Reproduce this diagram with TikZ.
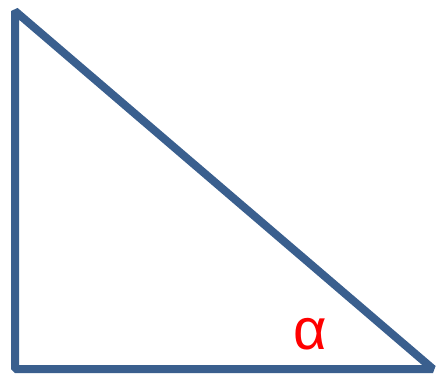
\documentclass[tikz,border=0pt]{standalone}
\usepackage{fontspec}
\usepackage{tikz}
\usetikzlibrary{positioning,calc}
\newfontfamily\anglefont{Liberation Sans}
\definecolor{edgeblue}{HTML}{3A5F8E}
\definecolor{anglered}{HTML}{FF0000}
\tikzset{
  sideline/.style={line width=8pt, draw=edgeblue, line join=bevel},
  anglelabel/.style={font=\anglefont\fontsize{58}{60}\selectfont, text=anglered, inner sep=0pt}
}
\begin{document}
\begin{tikzpicture}[x=1pt,y=1pt]
  \useasboundingbox (0,0) rectangle (438,373);
  \coordinate (top) at (15,362);
  \coordinate (corner) at (15,4);
  \coordinate (tip) at (433,4);
  \draw[sideline] (top) -- (corner) -- (tip) -- cycle;
  \node[anglelabel, anchor=base] (alpha) at (310,24) {α};
\end{tikzpicture}
\end{document}
